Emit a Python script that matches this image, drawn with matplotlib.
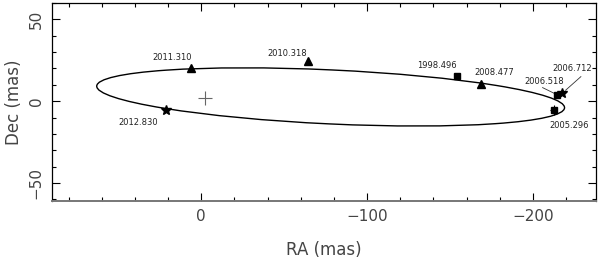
import matplotlib
matplotlib.use("Agg")
import matplotlib.pyplot as plt
from matplotlib.patches import Ellipse
from matplotlib.ticker import MultipleLocator

# orbit (apparent ellipse) parameters, mas
orbit_center = (-78.0, 2.6)
orbit_width = 282.4
orbit_height = 33.0
orbit_angle = 2.7

# observed epochs: RA, Dec (mas)
tri_epochs = ["2011.310", "2010.318", "2008.477"]
tri_ra = [6.2, -64.6, -168.7]
tri_dec = [20.0, 24.4, 10.3]

sq_epochs = ["1998.496", "2006.518", "2005.296"]
sq_ra = [-154.0, -214.3, -212.5]
sq_dec = [15.3, 3.6, -5.3]
sq_err_ra = [0, 0, 2.0]
sq_err_dec = [0, 0, 3.0]

star_epochs = ["2012.830", "2006.712"]
star_ra = [21.3, -217.7]
star_dec = [-5.5, 5.3]
star_err_ra = [0, 1.2]
star_err_dec = [0, 1.8]

primary_ra, primary_dec = -2.5, 2.0

# label positions (RA, Dec)
label_text = ["2011.310", "2012.830", "2010.318", "1998.496", "2008.477",
              "2006.518", "2006.712", "2005.296"]
label_ra = [17.5, 38.0, -52.0, -142.0, -176.8, -206.6, -223.8, -221.7]
label_dec = [26.8, -13.3, 29.0, 22.0, 17.4, 12.0, 19.8, -15.0]

# leader lines: (from, to)
leaders = [((-205.8, 8.3), (-212.8, 4.8)),
           ((-228.9, 15.0), (-219.7, 6.7))]

txt = "#444444"

fig = plt.figure(figsize=(6.0, 2.61), dpi=100)
ax = fig.add_axes([0.0867, 0.2299, 0.9066, 0.7586])

ax.add_patch(Ellipse(orbit_center, orbit_width, orbit_height, angle=orbit_angle,
                     fill=False, color="black", lw=1.0))

ax.plot(tri_ra, tri_dec, "^", color="black", ms=5.5, ls="none")
ax.errorbar(sq_ra, sq_dec, xerr=sq_err_ra, yerr=sq_err_dec, fmt="s",
            color="black", ms=4, elinewidth=0.8, capsize=0)
ax.errorbar(star_ra, star_dec, xerr=star_err_ra, yerr=star_err_dec, fmt="*",
            color="black", ms=7, elinewidth=0.8, capsize=0)
ax.plot(primary_ra, primary_dec, "+", color="#666666", ms=10, mew=0.8)

for t, x, y in zip(label_text, label_ra, label_dec):
    ax.text(x, y, t, fontsize=6, ha="center", va="center", color="#222222")

for (x0, y0), (x1, y1) in leaders:
    ax.plot([x0, x1], [y0, y1], color="#333333", lw=0.6)

ax.set_xlim(90, -238)
ax.set_ylim(-61, 60)
ax.xaxis.set_major_locator(MultipleLocator(100))
ax.xaxis.set_minor_locator(MultipleLocator(20))
ax.yaxis.set_major_locator(MultipleLocator(50))
ax.yaxis.set_minor_locator(MultipleLocator(10))
ax.tick_params(which="both", direction="in", top=True, right=True,
               colors="black", labelcolor=txt, labelsize=11, width=0.8)
ax.tick_params(which="major", length=5.5)
ax.tick_params(which="minor", length=3)
for lbl in ax.get_yticklabels():
    lbl.set_rotation(90)
    lbl.set_va("center")
ax.tick_params(axis="y", pad=6)
ax.tick_params(axis="x", pad=6)

for s in ["left", "top", "right"]:
    ax.spines[s].set_linewidth(0.9)
ax.spines["bottom"].set_color("#777777")
ax.spines["bottom"].set_linewidth(1.4)

ax.set_xlabel("RA (mas)", fontsize=12, color=txt, labelpad=12)
ax.set_ylabel("Dec (mas)", fontsize=12, color=txt, labelpad=4)

fig.savefig("out.png", dpi=100)
